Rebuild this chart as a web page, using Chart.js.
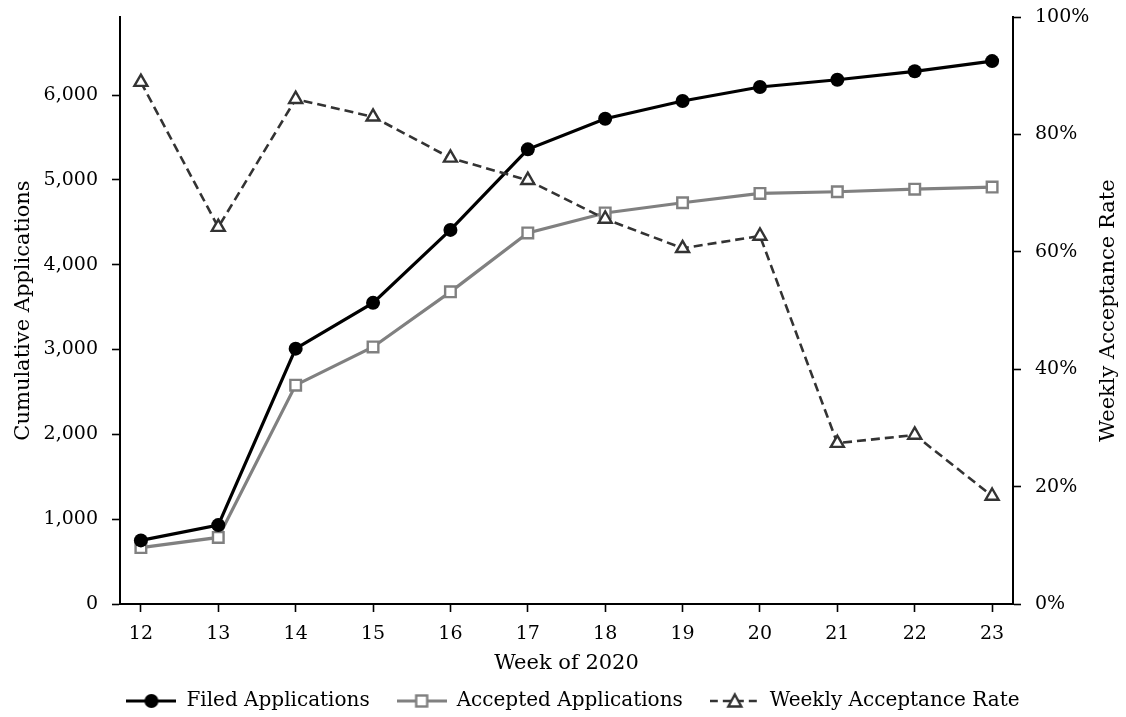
<!DOCTYPE html>
<html>
<head>
<meta charset="utf-8">
<script src="https://cdn.jsdelivr.net/npm/chart.js@4.4.1/dist/chart.umd.min.js"></script>
<style>
  html, body { margin: 0; padding: 0; background: #fff; }
  #wrap { width: 1126px; height: 717px; }
</style>
</head>
<body>
<div id="wrap"><canvas id="chart" width="1126" height="717"></canvas></div>
<script>
// Data
const weeks = [12, 13, 14, 15, 16, 17, 18, 19, 20, 21, 22, 23];
const filedApps = [750, 930, 3010, 3550, 4410, 5360, 5720, 5930, 6095, 6180, 6280, 6400];
const acceptedApps = [665, 785, 2580, 3030, 3680, 4375, 4610, 4730, 4840, 4860, 4890, 4915];
const acceptRate = [88.9, 64.2, 86.0, 83.0, 76.0, 72.2, 65.6, 60.6, 62.7, 27.4, 28.8, 18.4];
const leftTicks = [0, 1000, 2000, 3000, 4000, 5000, 6000];
const rightTicks = [0, 20, 40, 60, 80, 100];

const FONT = "'DejaVu Serif', serif";

const pts = arr => weeks.map((w, i) => ({ x: w, y: arr[i] }));

// legend icon: line segment with the marker in the middle
function legendIcon(color, width, dash, drawMarker) {
  const c = document.createElement('canvas');
  c.width = 50; c.height = 18;
  const g = c.getContext('2d');
  g.strokeStyle = color;
  g.lineWidth = width;
  g.setLineDash(dash);
  g.beginPath(); g.moveTo(0, 9); g.lineTo(50, 9); g.stroke();
  g.setLineDash([]);
  drawMarker(g);
  return c;
}

const icons = [
  legendIcon('#000', 3.2, [], g => {
    g.fillStyle = '#000';
    g.beginPath(); g.arc(25, 9, 7, 0, Math.PI * 2); g.fill();
  }),
  legendIcon('#808080', 3.2, [], g => {
    g.fillStyle = '#fff'; g.strokeStyle = '#808080'; g.lineWidth = 2.4;
    g.fillRect(19.5, 3.5, 11, 11); g.strokeRect(19.5, 3.5, 11, 11);
  }),
  legendIcon('#333', 2.6, [8, 5], g => {
    g.fillStyle = '#fff'; g.strokeStyle = '#333'; g.lineWidth = 2.4;
    g.beginPath(); g.moveTo(25, 2.5); g.lineTo(31.5, 14.5); g.lineTo(18.5, 14.5); g.closePath();
    g.fill(); g.stroke();
  })
];

const rightTitle = {
  id: 'rightTitle',
  afterDraw(chart) {
    const { ctx, chartArea } = chart;
    ctx.save();
    ctx.translate(1109, (chartArea.top + chartArea.bottom) / 2);
    ctx.rotate(-Math.PI / 2);
    ctx.font = '21px ' + FONT;
    ctx.fillStyle = '#000';
    ctx.textAlign = 'center';
    ctx.textBaseline = 'middle';
    ctx.fillText('Weekly Acceptance Rate', 0, 0);
    ctx.restore();
  }
};

const axisGrid = { display: true, drawOnChartArea: false, drawTicks: true, tickLength: 8, tickWidth: 1.6, color: '#000' };
const axisBorder = { display: true, color: '#000', width: 2 };
const tickFont = { family: FONT, size: 19 };
const titleFont = { family: FONT, size: 21 };

// fixed width for a y axis, with no extra room for end labels
const fitY = w => s => { s.width = w; s.paddingTop = 0; s.paddingBottom = 0; };

new Chart(document.getElementById('chart'), {
  type: 'line',
  data: {
    datasets: [
      {
        label: 'Filed Applications',
        data: pts(filedApps),
        yAxisID: 'y',
        borderColor: '#000',
        backgroundColor: '#000',
        borderWidth: 3.2,
        pointStyle: 'circle',
        pointRadius: 7,
        pointBorderWidth: 0,
        order: 2
      },
      {
        label: 'Accepted Applications',
        data: pts(acceptedApps),
        yAxisID: 'y',
        borderColor: '#808080',
        backgroundColor: '#fff',
        borderWidth: 3.2,
        pointStyle: 'rect',
        pointRadius: 7.5,
        pointBorderWidth: 2.4,
        order: 3
      },
      {
        label: 'Weekly Acceptance Rate',
        data: pts(acceptRate),
        yAxisID: 'y1',
        borderColor: '#333',
        backgroundColor: '#fff',
        borderWidth: 2.6,
        borderDash: [9, 5],
        pointStyle: 'triangle',
        pointRadius: 7.5,
        pointBorderWidth: 2.4,
        order: 1
      }
    ]
  },
  options: {
    responsive: false,
    animation: false,
    layout: { padding: { top: 17, left: 20, right: 0, bottom: 0 } },
    plugins: {
      tooltip: { enabled: false },
      legend: {
        position: 'bottom',
        maxHeight: 53,
        labels: {
          color: '#000',
          font: { family: FONT, size: 20 },
          usePointStyle: true,
          pointStyleWidth: 50,
          padding: 27,
          generateLabels: chart => chart.data.datasets.map((ds, i) => ({
            text: ds.label,
            pointStyle: icons[i],
            datasetIndex: i,
            hidden: false,
            fontColor: '#000',
            lineWidth: 0,
            strokeStyle: 'transparent',
            fillStyle: 'transparent'
          }))
        }
      }
    },
    scales: {
      x: {
        type: 'linear',
        min: 11.73,
        max: 23.27,
        afterBuildTicks: s => { s.ticks = weeks.map(v => ({ value: v })); },
        afterFit: s => { s.height = 60; },
        grid: axisGrid,
        border: axisBorder,
        ticks: { color: '#000', font: tickFont, padding: 11, maxRotation: 0 },
        title: { display: true, text: 'Week of 2020', color: '#000', font: titleFont, padding: { top: 0, bottom: -12 } }
      },
      y: {
        position: 'left',
        min: 0,
        max: 6920,
        afterBuildTicks: s => { s.ticks = leftTicks.map(v => ({ value: v })); },
        afterFit: fitY(100),
        grid: axisGrid,
        border: axisBorder,
        ticks: { color: '#000', font: tickFont, padding: 14, callback: v => v.toLocaleString('en-US') },
        title: { display: true, text: 'Cumulative Applications', color: '#000', font: titleFont, padding: { top: -9, bottom: 0 } }
      },
      y1: {
        position: 'right',
        min: 0,
        max: 100,
        afterBuildTicks: s => { s.ticks = rightTicks.map(v => ({ value: v })); },
        afterFit: fitY(113),
        grid: axisGrid,
        border: axisBorder,
        ticks: { color: '#000', font: tickFont, padding: 14, callback: v => v + '%' }
      }
    }
  },
  plugins: [rightTitle]
});
</script>
</body>
</html>
